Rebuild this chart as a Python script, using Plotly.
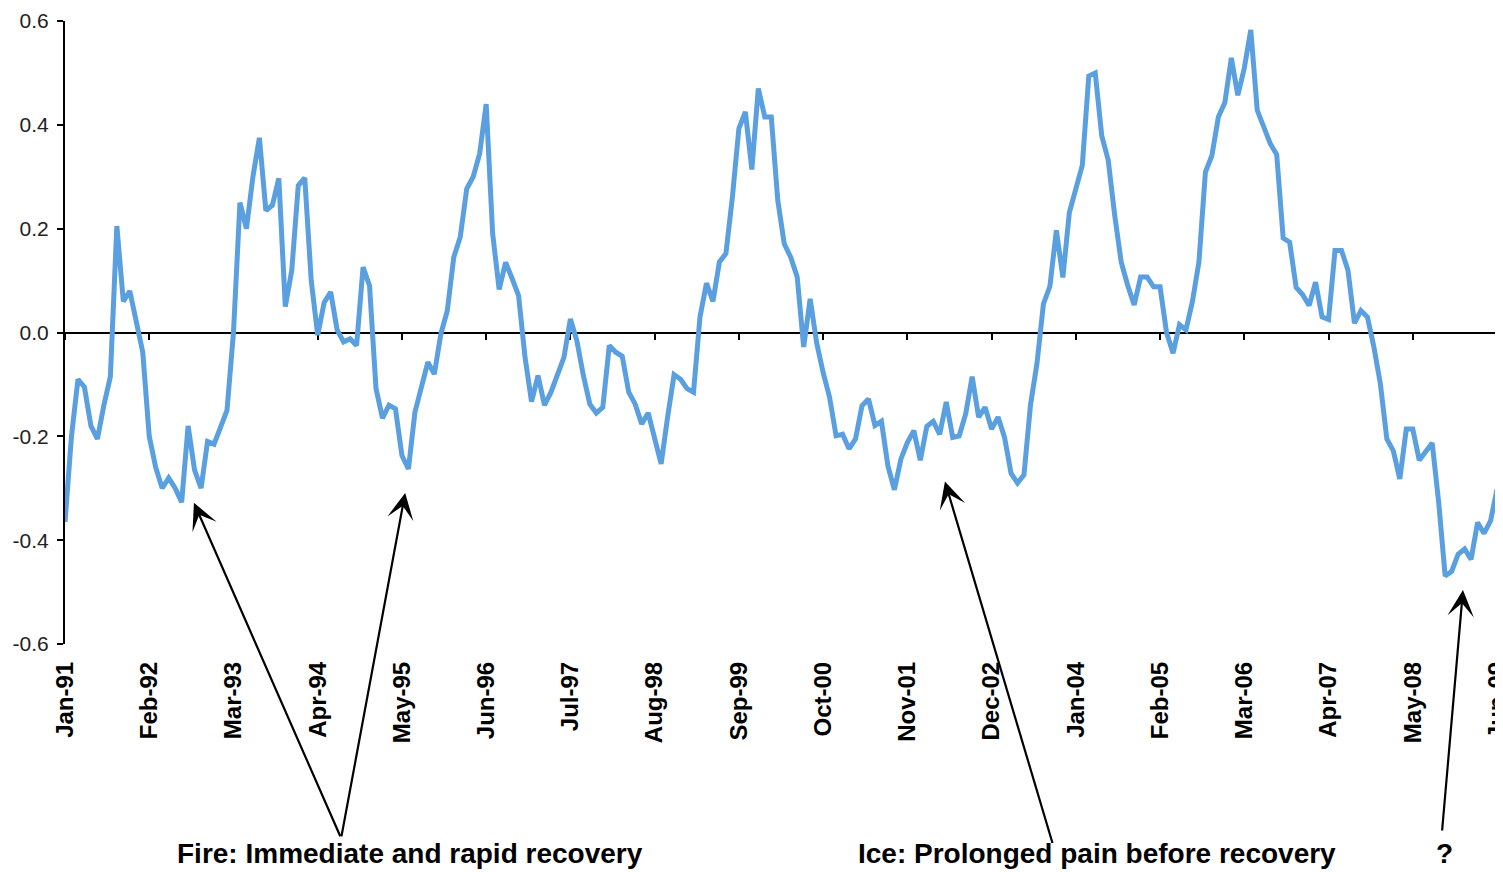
import plotly.graph_objects as go

# monthly values Jan-91 .. Jun-09
values = [
    -0.365, -0.20, -0.09, -0.105, -0.18, -0.205, -0.14, -0.085, 0.205, 0.06,
    0.08, 0.02, -0.038, -0.20, -0.26, -0.30, -0.28, -0.30, -0.327, -0.18,
    -0.265, -0.30, -0.21, -0.215, -0.18, -0.15, 0.0, 0.25, 0.20, 0.30,
    0.375, 0.235, 0.245, 0.297, 0.05, 0.12, 0.283, 0.298, 0.10, -0.005,
    0.058, 0.078, 0.005, -0.018, -0.012, -0.025, 0.126, 0.09, -0.108, -0.165,
    -0.14, -0.147, -0.237, -0.263, -0.154, -0.105, -0.057, -0.08, -0.003, 0.042,
    0.145, 0.184, 0.277, 0.30, 0.345, 0.44, 0.19, 0.083, 0.135, 0.104,
    0.071, -0.048, -0.133, -0.083, -0.14, -0.115, -0.08, -0.048, 0.026, -0.016,
    -0.083, -0.138, -0.155, -0.144, -0.025, -0.038, -0.046, -0.115, -0.138, -0.176,
    -0.155, -0.208, -0.253, -0.163, -0.081, -0.09, -0.108, -0.115, 0.03, 0.095,
    0.06, 0.136, 0.152, 0.261, 0.393, 0.425, 0.314, 0.47, 0.415, 0.415,
    0.255, 0.171, 0.145, 0.107, -0.028, 0.065, -0.02, -0.077, -0.125, -0.199,
    -0.196, -0.224, -0.205, -0.141, -0.128, -0.179, -0.171, -0.257, -0.303, -0.244,
    -0.212, -0.189, -0.246, -0.181, -0.171, -0.196, -0.134, -0.202, -0.199, -0.157,
    -0.085, -0.163, -0.144, -0.186, -0.163, -0.202, -0.271, -0.29, -0.274, -0.14,
    -0.06, 0.055, 0.089, 0.197, 0.106, 0.231, 0.28, 0.322, 0.494, 0.50,
    0.379, 0.332, 0.226, 0.136, 0.091, 0.053, 0.107, 0.107, 0.088, 0.088,
    0.0, -0.04, 0.015, 0.005, 0.06, 0.136, 0.309, 0.341, 0.415, 0.443,
    0.529, 0.457, 0.509, 0.583, 0.428, 0.396, 0.364, 0.343, 0.182, 0.174,
    0.087, 0.073, 0.052, 0.097, 0.03, 0.025, 0.158, 0.158, 0.12, 0.018,
    0.042, 0.03, -0.028, -0.099, -0.205, -0.228, -0.282, -0.186, -0.186, -0.246,
    -0.231, -0.213, -0.327, -0.469, -0.46, -0.427, -0.417, -0.437, -0.366, -0.387,
    -0.363, -0.302,
]
months = list(range(len(values)))

tick_positions = list(range(0, 222, 13))
tick_labels = ["Jan-91", "Feb-92", "Mar-93", "Apr-94", "May-95", "Jun-96",
               "Jul-97", "Aug-98", "Sep-99", "Oct-00", "Nov-01", "Dec-02",
               "Jan-04", "Feb-05", "Mar-06", "Apr-07", "May-08", "Jun-09"]
y_ticks = [0.6, 0.4, 0.2, 0.0, -0.2, -0.4, -0.6]
y_tick_labels = ["0.6", "0.4", "0.2", "0.0", "-0.2", "-0.4", "-0.6"]

# annotation arrows: tip (month index, value), tail offset (px)
arrow_tips = [(19.9, -0.328), (52.5, -0.309), (135.8, -0.287), (215.75, -0.496)]
arrow_tails = [(147, 335), (-64, 345), (108, 363), (-21, 242)]
texts = ["Fire: Immediate and rapid recovery", "Ice: Prolonged pain before recovery", "?"]
text_x = [0.2406, 0.7210, 0.963]

FONT = "Liberation Sans, Arial, Helvetica, sans-serif"

fig = go.Figure()
fig.add_trace(go.Scatter(
    x=months, y=values, mode="lines",
    line=dict(color="#5A9FDF", width=5),
    showlegend=False, hoverinfo="skip",
))
fig.add_trace(go.Scatter(
    x=[0], y=[0], xaxis="x2", mode="markers",
    marker=dict(opacity=0), showlegend=False, hoverinfo="skip",
))

fig.update_layout(
    width=1495, height=864,
    margin=dict(l=57, r=6, t=13, b=228, autoexpand=False),
    paper_bgcolor="white", plot_bgcolor="white",
    font=dict(family=FONT, color="#222222"),
    xaxis=dict(
        range=[0, 221], tickmode="array", tickvals=tick_positions, ticktext=tick_labels,
        tickangle=-90, tickfont=dict(size=24, color="black", family=FONT, weight="bold"),
        showgrid=False, zeroline=False, showline=False, ticks="",
        ticklabelstandoff=12, ticklabeloverflow="allow", automargin=False,
    ),
    xaxis2=dict(
        overlaying="x", matches="x", anchor="free", position=0.5, side="bottom",
        tickmode="array", tickvals=tick_positions, showticklabels=False,
        showline=True, linecolor="black", linewidth=2,
        ticks="outside", ticklen=6, tickwidth=2, tickcolor="black",
        showgrid=False, zeroline=False, layer="below traces", automargin=False,
    ),
    yaxis=dict(
        range=[-0.6, 0.6], tickmode="array", tickvals=y_ticks, ticktext=y_tick_labels,
        tickfont=dict(size=21, color="#222222", family=FONT),
        showgrid=False, zeroline=False, showline=True, linecolor="black", linewidth=2,
        ticks="outside", ticklen=6, tickwidth=2, tickcolor="black",
        layer="below traces", ticklabelstandoff=4, automargin=False,
    ),
)

for (tx, ty), (ax, ay) in zip(arrow_tips, arrow_tails):
    fig.add_annotation(
        x=tx, y=ty, xref="x", yref="y", text="", showarrow=True,
        ax=ax, ay=ay, axref="pixel", ayref="pixel",
        arrowhead=3, arrowsize=2.0, arrowwidth=2.2, arrowcolor="black",
        standoff=0, startstandoff=0,
    )

for t, xp in zip(texts, text_x):
    fig.add_annotation(
        x=xp, y=-0.3085, xref="paper", yref="paper", text="<b>" + t + "</b>",
        showarrow=False, xanchor="center", yanchor="top",
        font=dict(size=28, color="black", family=FONT),
    )

fig.write_html("out.html")
